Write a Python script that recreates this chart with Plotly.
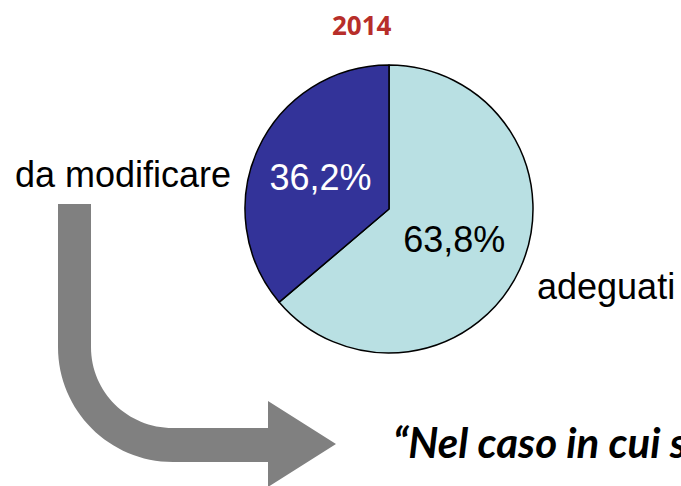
"""Pie 2014 — adeguati vs da modificare, with gray curved arrow."""

import plotly.graph_objects as go

W, H = 681, 486

labels = ["adeguati", "da modificare"]
values = [63.8, 36.2]
colors = ["#B9E0E3", "#333399"]
text_colors = ["black", "white"]
title_text = "2014"
quote_text = "\u201cNel caso in cui s"


def px(x):
    return x / W


def py(y):
    return 1 - y / H


def arrow_path():
    # curved arrow, pixel coords -> paper coords
    k = 0.5523
    cx, cy = 173, 347
    ro, ri = 115, 82
    pts = [
        ("M", [(58, 204)]),
        ("L", [(58, cy)]),
        ("C", [(58, cy + k * ro), (cx - k * ro, cy + ro), (cx, cy + ro)]),
        ("L", [(268, cy + ro)]),
        ("L", [(268, 487)]),
        ("L", [(336, 444)]),
        ("L", [(268, 401)]),
        ("L", [(268, cy + ri - 1)]),
        ("L", [(cx, cy + ri - 1)]),
        ("C", [(cx - k * ri, cy + ri - 1), (91, cy + k * ri), (91, cy)]),
        ("L", [(91, 204)]),
    ]
    out = ""
    for cmd, coords in pts:
        out += cmd + " ".join(f"{px(x):.5f},{py(y):.5f}" for x, y in coords) + " "
    return out + "Z"


fig = go.Figure()

fig.add_trace(
    go.Pie(
        labels=labels,
        values=values,
        sort=False,
        direction="clockwise",
        rotation=0,
        textinfo="percent",
        texttemplate="%{percent:.1%}",
        textposition="inside",
        insidetextorientation="horizontal",
        textfont=dict(family="Liberation Sans, Arial", size=36, color=text_colors),
        marker=dict(colors=colors, line=dict(color="black", width=1.5)),
        domain=dict(x=[245 / W, 533 / W], y=[(H - 354) / H, (H - 64) / H]),
        showlegend=False,
        hoverinfo="label+percent",
    )
)

fig.add_shape(
    type="path",
    path=arrow_path(),
    xref="paper",
    yref="paper",
    fillcolor="#808080",
    line=dict(width=0),
    layer="below",
)

fig.add_annotation(
    x=px(362), y=py(25), xref="paper", yref="paper",
    xanchor="center", yanchor="middle",
    text=f"<b>{title_text}</b>", showarrow=False,
    font=dict(family="Open Sans", size=26, color="#B72E2A"),
)
fig.add_annotation(
    x=px(123), y=py(174), xref="paper", yref="paper",
    xanchor="center", yanchor="middle",
    text=labels[1], showarrow=False,
    font=dict(family="Liberation Sans, Arial", size=36, color="black"),
)
fig.add_annotation(
    x=px(606), y=py(286), xref="paper", yref="paper",
    xanchor="center", yanchor="middle",
    text=labels[0], showarrow=False,
    font=dict(family="Liberation Sans, Arial", size=36, color="black"),
)
fig.add_annotation(
    x=px(391), y=py(442), xref="paper", yref="paper",
    xanchor="left", yanchor="middle",
    text=f"<b><i>{quote_text}</i></b>", showarrow=False,
    font=dict(family="Lato", size=42, color="black"),
)

fig.update_layout(
    width=W,
    height=H,
    margin=dict(l=0, r=0, t=0, b=0),
    paper_bgcolor="white",
    plot_bgcolor="white",
    separators=",.",
)

fig.write_html(
    "out.html",
    config={"displayModeBar": False},
    post_script="document.body.style.margin='0';",
)
